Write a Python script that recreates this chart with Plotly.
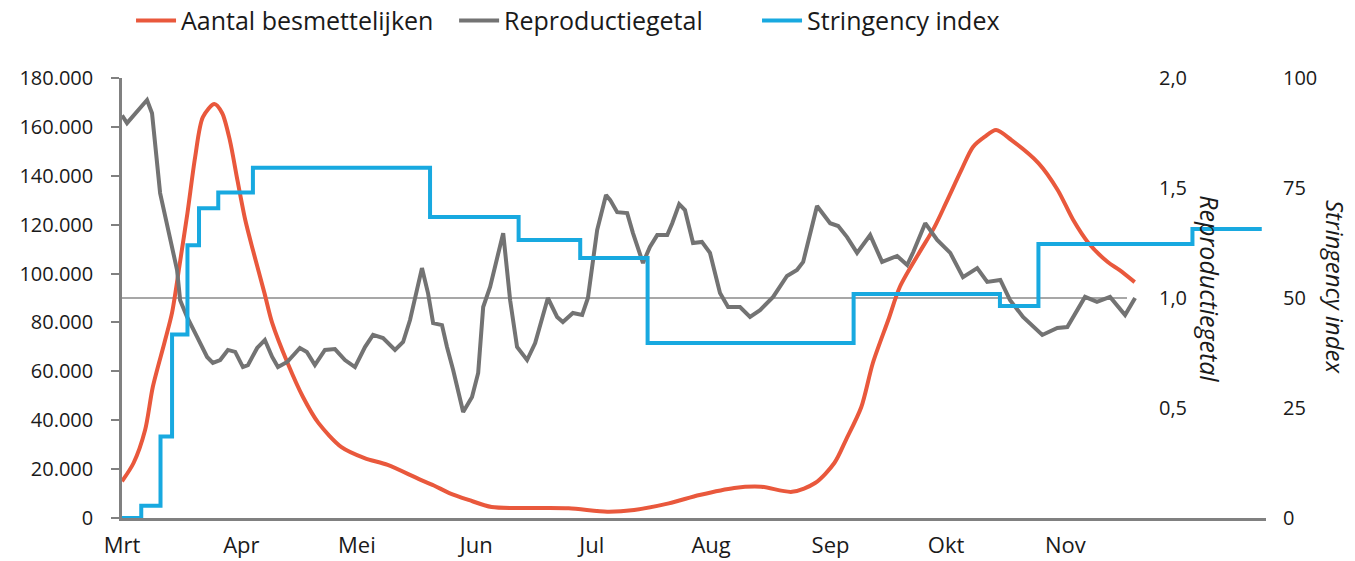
import pandas as pd
import plotly.graph_objects as go

START = "2020-03-01"

# month tick positions (days since 1 March) and Dutch labels
month_days = [0, 31, 61, 92, 122, 153, 184, 214, 245]
month_labels = ["Mrt", "Apr", "Mei", "Jun", "Jul", "Aug", "Sep", "Okt", "Nov"]

# Aantal besmettelijken (left axis), days since 1 March
besm_days = [0, 3, 6, 8, 11, 13, 15, 17, 19, 21, 24, 26, 28, 30, 32, 34, 37, 39, 43, 47,
             51, 57, 63, 69, 77, 81, 85, 90, 96, 104, 116, 126, 133, 142, 150, 159, 166,
             174, 180, 185, 188, 192, 195, 199, 202, 207, 211, 214, 218, 221, 224, 227,
             231, 238, 243, 247, 251, 256, 259, 263]
besm_values = [15000, 22500, 36000, 53600, 71600, 84000, 104000, 124800, 147700, 164000,
               169400, 165700, 154600, 138000, 122000, 109600, 92000, 79800, 63400, 49500,
               38900, 29000, 24500, 21700, 16000, 13300, 10200, 7400, 4500, 4100, 4000,
               2600, 3300, 6000, 9400, 12300, 12800, 10700, 14300, 22500, 31900, 45400,
               63400, 81000, 94500, 108400, 119000, 128900, 142400, 151800, 155900, 158700,
               154600, 145200, 134200, 122000, 112500, 104700, 101500, 96500]

# Reproductiegetal (second axis)
r_days = [0, 1.3, 6.5, 7.8, 9.9, 11.7, 14.3, 15.1, 16.9, 19.5, 22.1, 23.6, 25.5, 27.5, 29.4,
          31.4, 32.7, 35.1, 37.1, 39, 40.5, 42.9, 46.2, 48, 50.1, 52.7, 55.3, 57.9, 60.5,
          63.1, 65.2, 67.8, 70.9, 73, 74.8, 77.9, 79.5, 80.8, 83.1, 84.4, 86, 88.6, 90.9,
          92.5, 93.8, 95.6, 97.4, 99, 100.8, 102.6, 105.2, 107.3, 110.6, 113, 114.5, 117.1,
          119.5, 121, 123.4, 125.7, 126.8, 128.6, 131.2, 132.7, 135.3, 137.1, 139, 141.6,
          142.9, 144.7, 146.2, 148.3, 150.6, 152.7, 155.3, 157.4, 160.5, 163.1, 165.7,
          169.1, 172.7, 175.3, 176.9, 180.5, 183.9, 186, 188.3, 190.9, 194.3, 197.4, 201.3,
          203.9, 205.5, 208.6, 211.7, 215.1, 218.4, 222.1, 224.7, 228.1, 230.6, 234, 239,
          242.9, 245.5, 250.1, 253.2, 256.6, 260.5, 263.1]
r_values = [1.83, 1.795, 1.90, 1.84, 1.477, 1.34, 1.127, 0.99, 0.914, 0.823, 0.732, 0.705,
            0.718, 0.764, 0.755, 0.686, 0.695, 0.773, 0.809, 0.732, 0.686, 0.709, 0.773,
            0.755, 0.695, 0.764, 0.768, 0.718, 0.686, 0.777, 0.832, 0.818, 0.764, 0.80, 0.9,
            1.136, 1.02, 0.886, 0.877, 0.777, 0.673, 0.482, 0.55, 0.659, 0.959, 1.05, 1.173,
            1.295, 0.99, 0.777, 0.718, 0.795, 1.0, 0.914, 0.891, 0.932, 0.923, 1.0, 1.309,
            1.468, 1.445, 1.39, 1.386, 1.295, 1.159, 1.232, 1.286, 1.286, 1.34, 1.427, 1.4,
            1.25, 1.255, 1.205, 1.023, 0.959, 0.959, 0.914, 0.945, 1.005, 1.10, 1.127, 1.164,
            1.418, 1.34, 1.327, 1.277, 1.205, 1.286, 1.164, 1.191, 1.15, 1.209, 1.34, 1.264,
            1.205, 1.095, 1.136, 1.073, 1.082, 0.991, 0.914, 0.832, 0.864, 0.868, 1.005,
            0.982, 1.005, 0.923, 1.0]

# Stringency index (third axis): day on which each level starts
str_days = [0, 5, 10, 13, 17, 20, 25, 34, 80, 103, 119, 136.5, 190, 228, 238, 278, 296]
str_values = [0, 2.8, 18.5, 41.7, 62.0, 70.4, 74.0, 79.6, 68.4, 63.2, 59.1, 39.8, 50.9,
              48.2, 62.3, 65.7, 65.7]

R_REF = 1.0
R_REF_END_DAY = 261
X_END_DAY = 297.1

RED = "#E9583C"
GRAY = "#737373"
BLUE = "#18A9E0"
AXIS = "#808080"
FONT = "Open Sans"
TXT = "#1a1a1a"


def to_dates(days):
    return pd.Timestamp(START) + pd.to_timedelta(pd.Series(days, dtype=float), unit="D")


fig = go.Figure()
fig.add_trace(go.Scatter(x=to_dates(str_days), y=str_values, yaxis="y3", mode="lines",
                         name="Stringency index", legend="legend3",
                         line=dict(color=BLUE, width=4, shape="hv")))
fig.add_trace(go.Scatter(x=to_dates(r_days), y=r_values, yaxis="y2", mode="lines",
                         name="Reproductiegetal", legend="legend2",
                         line=dict(color=GRAY, width=4)))
fig.add_trace(go.Scatter(x=to_dates(besm_days), y=besm_values, yaxis="y", mode="lines",
                         name="Aantal besmettelijken", legend="legend",
                         line=dict(color=RED, width=4, shape="spline", smoothing=0.8)))

fig.add_shape(type="line", xref="x", yref="y2",
              x0=to_dates([0])[0], x1=to_dates([R_REF_END_DAY])[0], y0=R_REF, y1=R_REF,
              line=dict(color="#8a8a8a", width=1.5), layer="below")

leg_common = dict(orientation="h", yanchor="middle", y=1.13, xanchor="left",
                  bgcolor="rgba(0,0,0,0)", font=dict(family=FONT, size=25, color=TXT),
                  borderwidth=0, itemwidth=40)

fig.update_layout(
    width=1355, height=561,
    margin=dict(l=122, r=89, t=78, b=43, autoexpand=False),
    paper_bgcolor="white", plot_bgcolor="white",
    separators=",.",
    font=dict(family=FONT, size=20, color=TXT),
    showlegend=True,
    legend=dict(x=0.0079, **leg_common),
    legend2=dict(x=0.2903, **leg_common),
    legend3=dict(x=0.5551, **leg_common),
    xaxis=dict(type="date", range=[to_dates([0])[0], to_dates([X_END_DAY])[0]],
               tickmode="array", tickvals=to_dates(month_days), ticktext=month_labels,
               showgrid=False, zeroline=False, showline=True, linecolor=AXIS, linewidth=2.5,
               ticks="", tickfont=dict(size=22), ticklabelstandoff=6, automargin=False),
    yaxis=dict(range=[0, 180000], tickmode="array",
               tickvals=[0, 20000, 40000, 60000, 80000, 100000, 120000, 140000, 160000, 180000],
               tickformat=",d", showgrid=False, zeroline=False, showline=True,
               linecolor=AXIS, linewidth=2.5, ticks="outside", ticklen=8, tickwidth=2,
               tickcolor=AXIS, ticklabelstandoff=14, tickfont=dict(size=20), automargin=False),
    yaxis2=dict(range=[0, 2], overlaying="y", anchor="free", position=0.9056, side="right",
                tickmode="array", tickvals=[0.5, 1.0, 1.5, 2.0], tickformat=".1f",
                showgrid=False, zeroline=False, showline=False, ticks="",
                tickfont=dict(size=20), automargin=False),
    yaxis3=dict(range=[0, 100], overlaying="y", anchor="free", position=1.0, side="right",
                tickmode="array", tickvals=[0, 25, 50, 75, 100],
                showgrid=False, zeroline=False, showline=False, ticks="",
                ticklabelstandoff=16, tickfont=dict(size=20), automargin=False),
    annotations=[
        dict(text="<i>Reproductiegetal</i>", xref="paper", yref="paper", x=0.9510, y=0.52,
             textangle=90, showarrow=False, font=dict(size=25, family=FONT, color=TXT),
             xanchor="center", yanchor="middle"),
        dict(text="<i>Stringency index</i>", xref="paper", yref="paper", x=1.0612, y=0.525,
             textangle=90, showarrow=False, font=dict(size=24, family=FONT, color=TXT),
             xanchor="center", yanchor="middle"),
    ],
)

# remove the default 8px page margin so the figure fills the window exactly
fig.write_html("out.html", config={"displayModeBar": False},
               post_script="document.body.style.margin='0px';")
